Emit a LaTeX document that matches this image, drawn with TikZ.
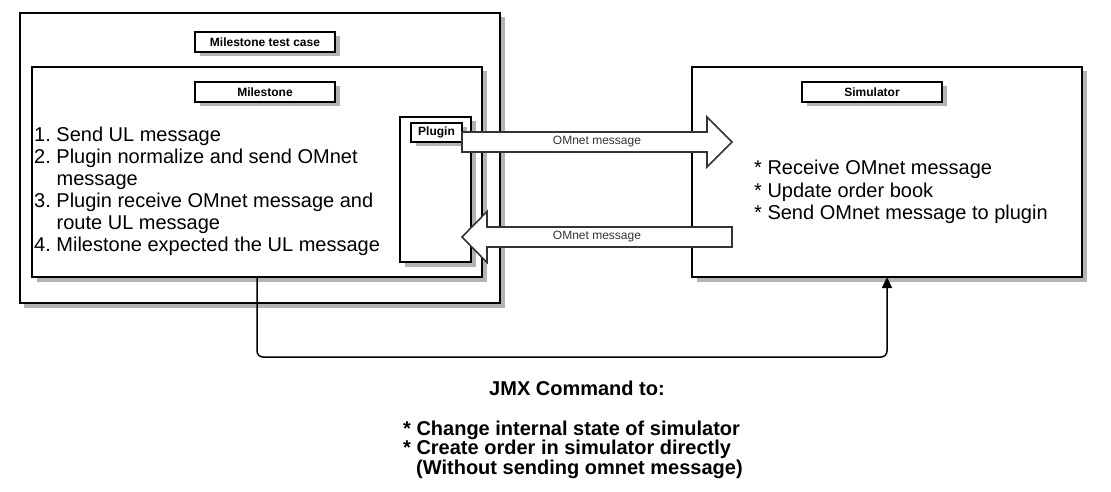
\documentclass[tikz,border=0pt]{standalone}
\usepackage{fontspec}
\setmainfont{Liberation Sans}
\usetikzlibrary{shadows,arrows.meta}
\definecolor{shadowgray}{HTML}{B3B3B3}
\definecolor{arrowgray}{HTML}{333333}
\begin{document}
\frenchspacing
\begin{tikzpicture}[x=1pt,y=-1pt,
  box/.style={draw=black, line width=2pt, fill=white, inner sep=0pt, outer sep=0pt,
    anchor=north west,
    drop shadow={shadow xshift=4.5pt, shadow yshift=-4.5pt, fill=shadowgray, opacity=1}},
  tag/.style={box, font=\fontsize{12}{14}\selectfont\bfseries},
  bodytext/.style={inner sep=0pt, align=left, font=\fontsize{20}{22}\selectfont},
  blockarr/.style={draw=arrowgray, line width=1.6pt, fill=white},
  msglabel/.style={inner sep=0pt, text=arrowgray, font=\fontsize{12}{14}\selectfont},
  jmxline/.style={draw=black, line width=1.5pt, rounded corners=6pt, -{Triangle[width=10pt,length=11pt]}},
  jmxtext/.style={inner sep=0pt, font=\fontsize{20}{19.5}\selectfont\bfseries}
]
\useasboundingbox (0,0) rectangle (1111,492);

% outer test case box
\node[box, minimum width=480.5pt, minimum height=290pt] (tc) at (19.5,13) {};
\node[tag, minimum width=140pt, minimum height=20pt] (tclabel) at (195,32) {Milestone test case};

% milestone box
\node[box, minimum width=450pt, minimum height=210pt] (ms) at (32,67) {};
\node[tag, minimum width=140pt, minimum height=20pt] (mslabel) at (195,82) {Milestone};

% plugin box
\node[box, minimum width=71pt, minimum height=145pt] (plugin) at (400,117) {};
\node[tag, minimum width=51pt, minimum height=19pt] (pluginlabel) at (411,123) {Plugin};

% simulator box
\node[box, minimum width=390pt, minimum height=210pt] (sim) at (692,67) {};
\node[tag, minimum width=140pt, minimum height=20pt] (simlabel) at (802,82) {Simulator};

% texts
\node[bodytext, anchor=west] (steps) at (34,191.5) {1. Send UL message\\
2. Plugin normalize and send OMnet\\
\hspace*{22.5pt}message\\
3. Plugin receive OMnet message and\\
\hspace*{22.5pt}route UL message\\
4. Milestone expected the UL message};

\node[bodytext, anchor=west, font=\fontsize{20}{22.5}\selectfont] (simsteps) at (754,192) {* Receive OMnet message\\
* Update order book\\
* Send OMnet message to plugin};

% JMX connector
\draw[jmxline] (ms.south) -- ++(0,80) -| (sim.south);

% block arrows
\draw[blockarr] (462,132) -- (707,132) -- (707,117) -- (732,142) -- (707,167) -- (707,152) -- (462,152) -- cycle;
\node[msglabel] (omout) at (597,142) {OMnet message};
\draw[blockarr] (732,227) -- (487,227) -- (487,211.5) -- (462,237) -- (487,262.5) -- (487,247) -- (732,247) -- cycle;
\node[msglabel] (omin) at (597,237) {OMnet message};

% JMX description
\node[jmxtext, anchor=base] (jmxtitle) at (577,395) {JMX Command to:};
\node[jmxtext, anchor=north west, align=left] (jmxlist) at (403,420.5) {* Change internal state of simulator\\
* Create order in simulator directly\\
\hspace*{13pt}(Without sending omnet message)};
\end{tikzpicture}
\end{document}
